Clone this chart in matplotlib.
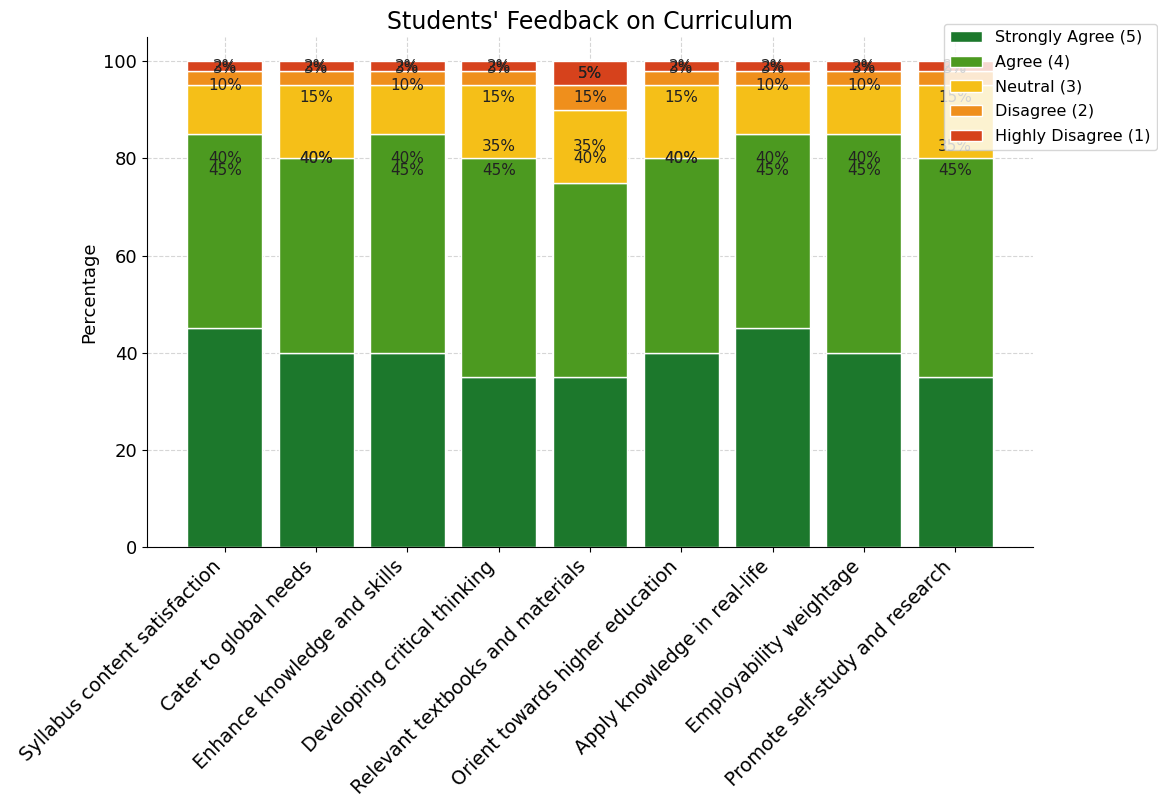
"""Stacked bar chart of students' feedback on the curriculum"""
import matplotlib
matplotlib.use("Agg")
import matplotlib.pyplot as plt
import numpy as np

categories = [
    "Syllabus content satisfaction",
    "Cater to global needs",
    "Enhance knowledge and skills",
    "Developing critical thinking",
    "Relevant textbooks and materials",
    "Orient towards higher education",
    "Apply knowledge in real-life",
    "Employability weightage",
    "Promote self-study and research",
]
strongly_agree = [45, 40, 40, 35, 35, 40, 45, 40, 35]
agree = [40, 40, 45, 45, 40, 40, 40, 45, 45]
neutral = [10, 15, 10, 15, 15, 15, 10, 10, 15]
disagree = [3, 3, 3, 3, 5, 3, 3, 3, 3]
highly_disagree = [2, 2, 2, 2, 5, 2, 2, 2, 2]

series = [
    ("Strongly Agree (5)", strongly_agree, "#1c782c"),
    ("Agree (4)", agree, "#4c9a20"),
    ("Neutral (3)", neutral, "#f5bf18"),
    ("Disagree (2)", disagree, "#ef8f1c"),
    ("Highly Disagree (1)", highly_disagree, "#d6421c"),
]

fig = plt.figure(figsize=(11.58, 8.01), dpi=100)
ax = fig.add_axes([0.127, 0.317, 0.765, 0.637])

x = np.arange(len(categories))
bottom = np.zeros(len(categories))
for name, vals, color in series:
    vals = np.array(vals, dtype=float)
    ax.bar(x, vals, 0.82, bottom=bottom, color=color, edgecolor="white",
           linewidth=1, label=name)
    bottom += vals

# percentage labels (placed the same way as in the original figure)
for name, vals, color in series:
    for i, v in enumerate(vals):
        ax.text(x[i], 100 - v / 2, f"{v}%", ha="center", va="center",
                fontsize=11, color="#222222")

ax.set_title("Students' Feedback on Curriculum", fontsize=17)
ax.set_ylabel("Percentage", fontsize=13)
ax.set_xticks(x)
ax.set_xticklabels(categories, rotation=45, ha="right", fontsize=13.8)
ax.tick_params(axis="y", labelsize=13)
ax.set_yticks([0, 20, 40, 60, 80, 100])
ax.spines["top"].set_visible(False)
ax.spines["right"].set_visible(False)
ax.set_axisbelow(True)
ax.grid(True, linestyle="--", color="#bbbbbb", alpha=0.6)

ax.legend(loc="upper right", bbox_to_anchor=(1.14, 1.025), borderaxespad=0,
          fontsize=11.5, labelspacing=0.6, framealpha=0.8)

fig.savefig("out.png", dpi=100)
